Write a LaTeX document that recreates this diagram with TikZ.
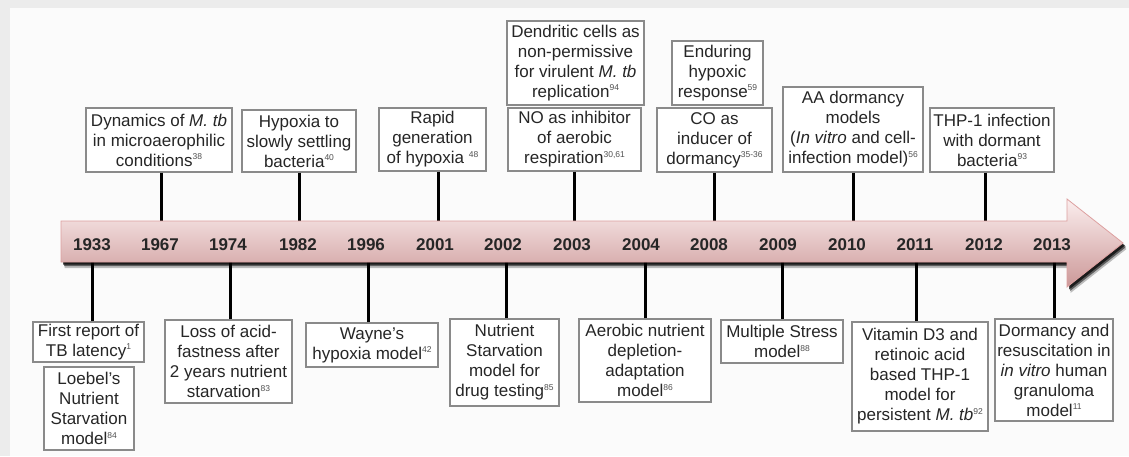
\documentclass[tikz,border=0pt]{standalone}
\usepackage{fontspec}
\setmainfont{Liberation Sans}
\definecolor{bgout}{HTML}{ECECEC}
\definecolor{bgin}{HTML}{FBFBFB}
\definecolor{boxline}{HTML}{8A8A8A}
\definecolor{txt}{HTML}{262626}
\definecolor{suptxt}{HTML}{505050}
\definecolor{arrtop}{HTML}{FBEEEE}
\definecolor{arrmid}{HTML}{EDCACA}
\definecolor{arrbot}{HTML}{CC9898}
\definecolor{arredge}{HTML}{DDA0A0}
\newcommand\refsup[1]{\raisebox{6.5pt}{\fontsize{8.5}{8.5}\selectfont\color{suptxt}#1}}
\tikzset{
  evbox/.style={draw=boxline, line width=1.2pt, fill=white, text=txt, align=center,
    inner sep=1pt, font=\fontsize{17}{20}\selectfont},
  yearlbl/.style={text=txt, font=\fontsize{17}{20}\selectfont\bfseries},
  conn/.style={line width=3pt, black}
}
\begin{document}
\begin{tikzpicture}[x=1pt,y=-1pt]
\useasboundingbox (0,0) rectangle (1129,456);
\fill[bgout] (0,0) rectangle (1129,456);
\fill[bgin] (10,8) rectangle (1129,456);

% top boxes
\node[evbox, minimum width=146pt, minimum height=64pt] (dyn) at (159,140) {Dynamics of \textit{M. tb}\\in microaerophilic\\conditions\refsup{38}};
\node[evbox, minimum width=114pt, minimum height=62pt] (hyp) at (299,141) {Hypoxia to\\slowly settling\\bacteria\refsup{40}};
\node[evbox, minimum width=107pt, minimum height=63pt] (rapid) at (432.5,139.5) {Rapid\\generation\\of hypoxia \refsup{48}};
\node[evbox, minimum width=137pt, minimum height=84pt] (dend) at (575.5,63) {Dendritic cells as\\non-permissive\\for virulent \textit{M. tb}\\replication\refsup{94}};
\node[evbox, minimum width=133pt, minimum height=63pt] (no) at (574.5,139.5) {NO as inhibitor\\of aerobic\\respiration\refsup{30,61}};
\node[evbox, minimum width=91pt, minimum height=64pt] (endur) at (717.5,73) {Enduring\\hypoxic\\response\refsup{59}};
\node[evbox, minimum width=115pt, minimum height=64pt] (co) at (714.5,140) {CO as\\inducer of\\dormancy\refsup{35-36}};
\node[evbox, minimum width=140pt, minimum height=85pt] (aa) at (853,129.5) {AA dormancy\\models\\(\textit{In vitro} and cell-\\infection model)\refsup{56}};
\node[evbox, minimum width=124pt, minimum height=64pt] (thp) at (992,140) {THP-1 infection\\with dormant\\bacteria\refsup{93}};

% bottom boxes
\node[evbox, minimum width=111pt, minimum height=40pt] (first) at (88.5,342) {First report of\\TB latency\refsup{1}};
\node[evbox, minimum width=90pt, minimum height=83pt] (loebel) at (89,408.5) {Loebel's\\Nutrient\\Starvation\\model\refsup{84}};
\node[evbox, minimum width=127pt, minimum height=83pt] (loss) at (228.5,361.5) {Loss of acid-\\fastness after\\2 years nutrient\\starvation\refsup{83}};
\node[evbox, minimum width=132pt, minimum height=44pt] (wayne) at (372,345) {Wayne's\\hypoxia model\refsup{42}};
\node[evbox, minimum width=109pt, minimum height=87pt] (nutr) at (504.5,362.5) {Nutrient\\Starvation\\model for\\drug testing\refsup{85}};
\node[evbox, minimum width=132pt, minimum height=83pt] (aer) at (645,360.5) {Aerobic nutrient\\depletion-\\adaptation\\model\refsup{86}};
\node[evbox, minimum width=122pt, minimum height=43pt] (mult) at (782,341.5) {Multiple Stress\\model\refsup{88}};
\node[evbox, minimum width=136pt, minimum height=109pt] (vit) at (920,376.5) {Vitamin D3 and\\retinoic acid\\based THP-1\\model for\\persistent \textit{M. tb}\refsup{92}};
\node[evbox, minimum width=118pt, minimum height=102pt] (dorm) at (1054,370) {Dormancy and\\resuscitation in\\\textit{in vitro} human\\granuloma\\model\refsup{11}};

% arrow reference lines
\coordinate (atop) at (0,223);
\coordinate (abot) at (0,262);

% connectors
\draw[conn] ([xshift=2pt]dyn.south) -- ([xshift=2pt]dyn.south |- atop);
\draw[conn] (hyp.south) -- (hyp.south |- atop);
\draw[conn] ([xshift=5.5pt]rapid.south) -- ([xshift=5.5pt]rapid.south |- atop);
\draw[conn] (no.south) -- (no.south |- atop);
\draw[conn] (co.south) -- (co.south |- atop);
\draw[conn] (aa.south) -- (aa.south |- atop);
\draw[conn] ([xshift=-7pt]thp.south) -- ([xshift=-7pt]thp.south |- atop);
\draw[conn] ([xshift=3.5pt]first.north) -- ([xshift=3.5pt]first.north |- abot);
\draw[conn] ([xshift=1.5pt]loss.north) -- ([xshift=1.5pt]loss.north |- abot);
\draw[conn] ([xshift=-4pt]wayne.north) -- ([xshift=-4pt]wayne.north |- abot);
\draw[conn] ([xshift=1.5pt]nutr.north) -- ([xshift=1.5pt]nutr.north |- abot);
\draw[conn] (aer.north) -- (aer.north |- abot);
\draw[conn] (mult.north) -- (mult.north |- abot);
\draw[conn] ([xshift=-4pt]vit.north) -- ([xshift=-4pt]vit.north |- abot);
\draw[conn] (dorm.north) -- (dorm.north |- abot);

% arrow shadow
\def\arrowpath{(61,221) -- (1067,221) -- (1067,199) -- (1123,243) -- (1067,287) -- (1067,262) -- (61,262) -- cycle}
\fill[black, opacity=0.25, xshift=3.5pt, yshift=-6pt] \arrowpath;
\fill[black, opacity=0.5, xshift=3pt, yshift=-4pt] \arrowpath;
\fill[black, opacity=0.7, xshift=2pt, yshift=-2.5pt] \arrowpath;
% arrow
\shade[top color=arrtop, middle color=arrmid, bottom color=arrbot, draw=arredge, line width=0.8pt] \arrowpath;

% years
\foreach \yr/\xx in {1933/92,1967/160,1974/228,1982/298,1996/366,2001/435,2002/503,2003/572,2004/641,2008/709,2009/778,2010/847,2011/915,2012/984,2013/1052}
  \node[yearlbl] (y\yr) at (\xx,245) {\yr};
\end{tikzpicture}
\end{document}
